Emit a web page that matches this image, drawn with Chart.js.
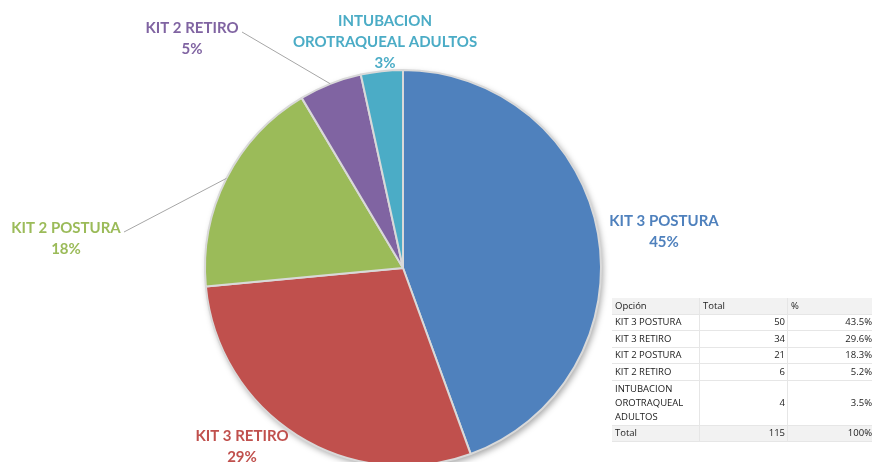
<!DOCTYPE html>
<html lang="es">
  <head>
    <meta charset="UTF-8" />
    <title>Kits</title>
    <script src="https://cdn.jsdelivr.net/npm/chart.js"></script>
    <style>
      html, body { margin: 0; padding: 0; background: #fff; width: 872px; height: 462px; overflow: hidden; }
      #wrap { position: relative; width: 872px; height: 462px; overflow: hidden; }
      #pie { position: absolute; left: 0; top: 0; }
      table {
        position: absolute; left: 612px; top: 298px; width: 262px;
        border-collapse: collapse; font-family: "Open Sans", sans-serif; font-size: 9.5px; color: #222;
      }
      td { border-bottom: 1px solid #e6e6e6; padding: 0 2px 0 3px; height: 15.5px; vertical-align: middle; line-height: 14px; white-space: nowrap; }
      td + td { border-left: 1px solid #e6e6e6; }
      tr.head td, tr.tot td { background: #f2f2f2; }
      tr.head td { text-align: left; }
      td.n { text-align: right; }
    </style>
  </head>
  <body>
    <div id="wrap">
      <canvas id="pie" width="872" height="536"></canvas>
      <table id="tbl"></table>
    </div>

    <script>
      const categories = ["KIT 3 POSTURA", "KIT 3 RETIRO", "KIT 2 POSTURA", "KIT 2 RETIRO", "INTUBACION OROTRAQUEAL ADULTOS"];
      // table values
      const totals = [50, 34, 21, 6, 4];
      const tablePct = ["43.5%", "29.6%", "18.3%", "5.2%", "3.5%"];
      const sliceValues = [52, 34, 21, 6, 4];
      const pieLabels = ["45%", "29%", "18%", "5%", "3%"];
      const colors = ["#4F81BD", "#C0504D", "#9BBB59", "#8064A2", "#4BACC6"];
      const textColors = ["#4F81BD", "#C0504D", "#9BBB59", "#8064A2", "#4BACC6"];

      // label placement (text lines + centre x + first baseline y), leader line start if needed
      const labelSpots = [
        { lines: ["KIT 3 POSTURA"], x: 664, y: 226 },
        { lines: ["KIT 3 RETIRO"], x: 242, y: 441 },
        { lines: ["KIT 2 POSTURA"], x: 66, y: 233, lead: [124, 232] },
        { lines: ["KIT 2 RETIRO"], x: 192, y: 33, lead: [242, 32] },
        { lines: ["INTUBACION", "OROTRAQUEAL ADULTOS"], x: 385, y: 26 },
      ];

      // table
      const tbl = document.getElementById("tbl");
      let html = '<tr class="head"><td style="width:82px">Opción</td><td style="width:82px">Total</td><td>%</td></tr>';
      categories.forEach((c, i) => {
        const name = i === 4 ? "INTUBACION<br>OROTRAQUEAL<br>ADULTOS" : c;
        const pad = i === 4 ? ' style="padding-top:1px;padding-bottom:1px"' : "";
        html += `<tr><td${pad}>${name}</td><td class="n">${totals[i]}</td><td class="n">${tablePct[i]}</td></tr>`;
      });
      html += `<tr class="tot"><td>Total</td><td class="n">${totals.reduce((a, b) => a + b, 0)}</td><td class="n">100%</td></tr>`;
      tbl.innerHTML = html;

      const shadowPlugin = {
        id: "shadow",
        beforeDatasetsDraw(chart) {
          const arc = chart.getDatasetMeta(0).data[0];
          const ctx = chart.ctx;
          ctx.save();
          ctx.shadowColor = "rgba(0,0,0,0.35)";
          ctx.shadowBlur = 6;
          ctx.shadowOffsetX = 2;
          ctx.shadowOffsetY = 3;
          ctx.fillStyle = "#ddd";
          ctx.beginPath();
          ctx.arc(arc.x, arc.y, arc.outerRadius, 0, Math.PI * 2);
          ctx.fill();
          ctx.restore();
        },
      };

      const labelPlugin = {
        id: "pieLabels",
        afterDatasetsDraw(chart) {
          const ctx = chart.ctx;
          const meta = chart.getDatasetMeta(0);
          ctx.save();
          ctx.textAlign = "center";
          ctx.textBaseline = "alphabetic";
          ctx.font = "bold 15px Lato, 'Open Sans', sans-serif";
          labelSpots.forEach((s, i) => {
            const arc = meta.data[i];
            if (s.lead) {
              const mid = (arc.startAngle + arc.endAngle) / 2;
              ctx.strokeStyle = "#a6a6a6";
              ctx.lineWidth = 1;
              ctx.beginPath();
              ctx.moveTo(s.lead[0], s.lead[1]);
              ctx.lineTo(arc.x + Math.cos(mid) * arc.outerRadius, arc.y + Math.sin(mid) * arc.outerRadius);
              ctx.stroke();
            }
            ctx.fillStyle = textColors[i];
            const all = s.lines.concat([pieLabels[i]]);
            all.forEach((t, k) => ctx.fillText(t, s.x, s.y + k * 21));
          });
          ctx.restore();
        },
      };

      new Chart(document.getElementById("pie"), {
        type: "pie",
        data: {
          labels: categories,
          datasets: [
            {
              data: sliceValues,
              backgroundColor: colors,
              borderColor: "#d9d9d9",
              borderWidth: 2,
              radius: 198,
            },
          ],
        },
        options: {
          responsive: false,
          animation: false,
          layout: { padding: { left: 0, right: 66, top: 0, bottom: 0 } },
          plugins: { legend: { display: false }, tooltip: { enabled: false } },
        },
        plugins: [shadowPlugin, labelPlugin],
      });
    </script>
  </body>
</html>
